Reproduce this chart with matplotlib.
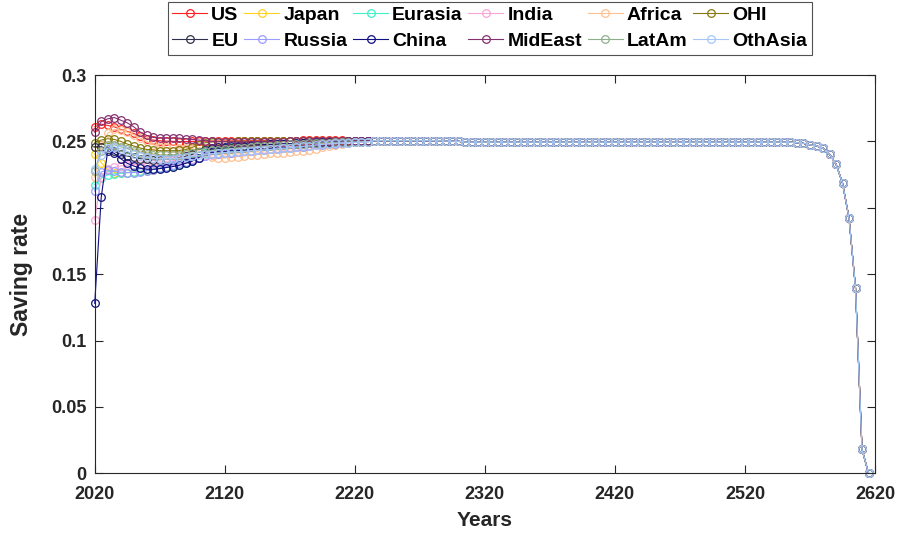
import matplotlib.pyplot as plt
import numpy as np

plt.rcParams['font.family'] = ['Liberation Sans', 'DejaVu Sans']
plt.rcParams['font.weight'] = 'bold'

# years with a value, one every 5 years
years = list(range(2020, 2620, 5))

# 2020-2230, each region separately
us = [0.261, 0.263, 0.262, 0.261, 0.259, 0.2575, 0.256, 0.254, 0.252, 0.251,
      0.2505, 0.2502, 0.2500, 0.2499, 0.2499, 0.2500, 0.2501, 0.2502, 0.2503, 0.2503,
      0.2504, 0.2504, 0.2505, 0.2505, 0.2505, 0.2505, 0.2506, 0.2506, 0.2506, 0.2506,
      0.2506, 0.2506, 0.2507, 0.2507, 0.2507, 0.2507, 0.2507, 0.2507, 0.2507, 0.2506,
      0.2506, 0.2506, 0.2505]
japan = [0.2405, 0.234, 0.2285, 0.2265, 0.2262, 0.2265, 0.227, 0.2275, 0.228, 0.2288,
         0.2296, 0.2305, 0.2315, 0.2325, 0.2338, 0.2355, 0.2378, 0.2415, 0.2438, 0.2448,
         0.2452, 0.2456, 0.246, 0.2463, 0.2466, 0.2469, 0.2472, 0.2475, 0.2477, 0.248,
         0.2482, 0.2484, 0.2486, 0.2488, 0.249, 0.2492, 0.2494, 0.2496, 0.2497, 0.2498,
         0.2499, 0.25, 0.2501]
eurasia = [0.2175, 0.2225, 0.2248, 0.2255, 0.226, 0.2265, 0.227, 0.2275, 0.2282, 0.229,
           0.2298, 0.2306, 0.2315, 0.2325, 0.2338, 0.2355, 0.2375, 0.241, 0.2435, 0.2446,
           0.2451, 0.2455, 0.2459, 0.2462, 0.2465, 0.2468, 0.2471, 0.2474, 0.2477, 0.2479,
           0.2481, 0.2484, 0.2486, 0.2488, 0.249, 0.2492, 0.2494, 0.2496, 0.2497, 0.2498,
           0.2499, 0.25, 0.2501]
india = [0.191, 0.223, 0.229, 0.2305, 0.2315, 0.232, 0.2325, 0.233, 0.2335, 0.234,
         0.2345, 0.235, 0.2355, 0.236, 0.2365, 0.237, 0.2378, 0.2388, 0.2398, 0.2405,
         0.241, 0.2415, 0.242, 0.2425, 0.243, 0.2435, 0.244, 0.2445, 0.245, 0.2455,
         0.246, 0.2465, 0.2469, 0.2473, 0.2477, 0.2481, 0.2485, 0.2488, 0.2491, 0.2494,
         0.2496, 0.2498, 0.2499]
africa = [0.223, 0.247, 0.256, 0.259, 0.2585, 0.257, 0.255, 0.2525, 0.25, 0.2475,
          0.246, 0.2455, 0.245, 0.245, 0.245, 0.2445, 0.243, 0.240, 0.238, 0.2375,
          0.2375, 0.238, 0.2385, 0.239, 0.2395, 0.240, 0.2405, 0.241, 0.2413, 0.2416,
          0.242, 0.2425, 0.243, 0.2438, 0.2445, 0.2455, 0.2465, 0.2475, 0.2483, 0.2489,
          0.2493, 0.2496, 0.2498]
ohi = [0.249, 0.251, 0.252, 0.2515, 0.250, 0.248, 0.2465, 0.245, 0.244, 0.2435,
       0.243, 0.243, 0.243, 0.2432, 0.2438, 0.2455, 0.2475, 0.249, 0.2495, 0.2497,
       0.2498, 0.2499, 0.250, 0.250, 0.2501, 0.2501, 0.2502, 0.2502, 0.2503, 0.2503,
       0.2504, 0.2504, 0.2504, 0.2505, 0.2505, 0.2505, 0.2506, 0.2506, 0.2506, 0.2506,
       0.2506, 0.2506, 0.2506]
eu = [0.246, 0.246, 0.2445, 0.2425, 0.2405, 0.239, 0.238, 0.237, 0.2365, 0.2362,
      0.2362, 0.2365, 0.237, 0.2378, 0.2388, 0.2402, 0.2418, 0.2432, 0.244, 0.2445,
      0.2449, 0.2453, 0.2457, 0.246, 0.2463, 0.2466, 0.2469, 0.2472, 0.2475, 0.2478,
      0.248, 0.2483, 0.2485, 0.2487, 0.2489, 0.2491, 0.2493, 0.2495, 0.2496, 0.2497,
      0.2498, 0.2499, 0.25]
russia = [0.2125, 0.227, 0.2285, 0.2275, 0.2268, 0.2265, 0.2265, 0.227, 0.2278, 0.2288,
          0.2298, 0.231, 0.2322, 0.2335, 0.2348, 0.2362, 0.2378, 0.2392, 0.2402, 0.2408,
          0.2412, 0.2416, 0.242, 0.2424, 0.2428, 0.2432, 0.2436, 0.244, 0.2444, 0.2448,
          0.2452, 0.2456, 0.246, 0.2465, 0.247, 0.2474, 0.2478, 0.2482, 0.2486, 0.249,
          0.2493, 0.2495, 0.2497]
china = [0.128, 0.208, 0.243, 0.241, 0.237, 0.2335, 0.2315, 0.2298, 0.229, 0.229,
         0.2295, 0.2303, 0.231, 0.232, 0.2335, 0.2352, 0.2378, 0.2425, 0.2448, 0.2455,
         0.246, 0.2463, 0.2466, 0.2469, 0.2472, 0.2474, 0.2476, 0.2478, 0.248, 0.2482,
         0.2484, 0.2486, 0.2488, 0.249, 0.2492, 0.2494, 0.2496, 0.2498, 0.2499, 0.25,
         0.2501, 0.2502, 0.2503]
mideast = [0.257, 0.265, 0.267, 0.268, 0.266, 0.264, 0.261, 0.257, 0.2545, 0.253,
           0.2525, 0.2525, 0.2525, 0.2525, 0.252, 0.2515, 0.251, 0.2505, 0.250, 0.2498,
           0.2497, 0.2496, 0.2496, 0.2496, 0.2497, 0.2497, 0.2498, 0.2498, 0.2499, 0.2499,
           0.250, 0.250, 0.250, 0.2501, 0.2502, 0.2502, 0.2503, 0.2503, 0.2504, 0.2504,
           0.2505, 0.2505, 0.2505]
latam = [0.228, 0.243, 0.247, 0.2475, 0.246, 0.2445, 0.243, 0.2415, 0.2405, 0.240,
         0.2395, 0.2395, 0.2398, 0.240, 0.2405, 0.241, 0.2418, 0.2425, 0.2432, 0.2438,
         0.2442, 0.2446, 0.245, 0.2454, 0.2458, 0.2462, 0.2465, 0.2468, 0.2471, 0.2474,
         0.2477, 0.248, 0.2482, 0.2485, 0.2487, 0.2489, 0.2491, 0.2493, 0.2495, 0.2496,
         0.2497, 0.2498, 0.2499]
othasia = [0.229, 0.240, 0.245, 0.246, 0.2445, 0.2425, 0.2405, 0.239, 0.238, 0.2372,
           0.2368, 0.2368, 0.237, 0.2375, 0.238, 0.2388, 0.2395, 0.2402, 0.2408, 0.2412,
           0.2416, 0.242, 0.2423, 0.2426, 0.2429, 0.2432, 0.2436, 0.244, 0.2444, 0.2448,
           0.2452, 0.2457, 0.2462, 0.2467, 0.2472, 0.2477, 0.2481, 0.2485, 0.2488, 0.2491,
           0.2493, 0.2495, 0.2497]

# 2235-2615, all regions sit on the same path
tail = [0.2505, 0.2505, 0.2505, 0.2505, 0.2505, 0.2505, 0.2505, 0.2505, 0.2505, 0.2505,
        0.2504, 0.2503, 0.2502, 0.2500,
        0.2495, 0.2495, 0.2495, 0.2495, 0.2495, 0.2495, 0.2495, 0.2495, 0.2495, 0.2495,
        0.2495, 0.2495, 0.2495, 0.2495, 0.2495, 0.2495, 0.2495, 0.2495, 0.2495, 0.2495,
        0.2495, 0.2495, 0.2495, 0.2495, 0.2495, 0.2495, 0.2495, 0.2495, 0.2495, 0.2495,
        0.2495, 0.2495, 0.2495, 0.2495, 0.2495, 0.2495, 0.2495, 0.2495, 0.2495, 0.2495,
        0.2495, 0.2495, 0.2495, 0.2495, 0.2495, 0.2495, 0.2495, 0.2495, 0.2495, 0.2495,
        0.2495,
        0.249, 0.2485, 0.2474, 0.2466, 0.2449, 0.2404, 0.2329, 0.2186, 0.1922, 0.1396,
        0.018, 0.0]

regions = ['US', 'Japan', 'Eurasia', 'India', 'Africa', 'OHI',
           'EU', 'Russia', 'China', 'MidEast', 'LatAm', 'OthAsia']
early = [us, japan, eurasia, india, africa, ohi, eu, russia, china, mideast, latam, othasia]
colors = ['#ff2020', '#ffd21f', '#3ff0c8', '#f7a6d6', '#ffc090', '#857a10',
          '#30304a', '#9a9cff', '#10107f', '#85306f', '#8fae8c', '#a6c6f8']

fig = plt.figure(figsize=(8.97, 5.37), dpi=100)
ax = fig.add_axes([0.1056, 0.1186, 0.8699, 0.7417])

# legend order is row by row, matplotlib fills columns first
order = [0, 6, 1, 7, 2, 8, 3, 9, 4, 10, 5, 11]
lines = {}
for i, name in enumerate(regions):
    ln, = ax.plot(years, early[i] + tail, color=colors[i], lw=0.8, marker='o',
                  markersize=5.5, markerfacecolor='none', markeredgewidth=0.9,
                  label=name, clip_on=False)
    lines[i] = ln

ax.set_xlim(2020, 2620)
ax.set_ylim(0, 0.3)
ax.set_xticks(np.arange(2020, 2621, 100))
ax.set_yticks([0, 0.05, 0.1, 0.15, 0.2, 0.25, 0.3])
ax.set_yticklabels(['0', '0.05', '0.1', '0.15', '0.2', '0.25', '0.3'])
ax.tick_params(direction='in', top=True, right=True, labelsize=13, length=6,
               width=0.8, colors='#262626')
ax.tick_params(axis='x', pad=9)
ax.tick_params(axis='y', pad=6)
for lab in ax.get_xticklabels() + ax.get_yticklabels():
    lab.set_fontweight('bold')
for sp in ax.spines.values():
    sp.set_color('#262626')
    sp.set_linewidth(0.8)
ax.set_xlabel('Years', fontsize=15, fontweight='bold', color='#262626', labelpad=6)
ax.set_ylabel('Saving rate', fontsize=16.5, fontweight='bold', color='#262626', labelpad=13)

leg = fig.legend([lines[k] for k in order], [regions[k] for k in order], ncol=6,
                 loc='upper center', bbox_to_anchor=(0.546, 0.997),
                 prop={'weight': 'bold', 'size': 14}, frameon=True, fancybox=False,
                 edgecolor='#262626', handlelength=1.8, handletextpad=0.2,
                 columnspacing=0.3, labelspacing=0.42, borderpad=0.25, borderaxespad=0)
leg.get_frame().set_linewidth(0.8)

fig.savefig('out.png', dpi=100)
